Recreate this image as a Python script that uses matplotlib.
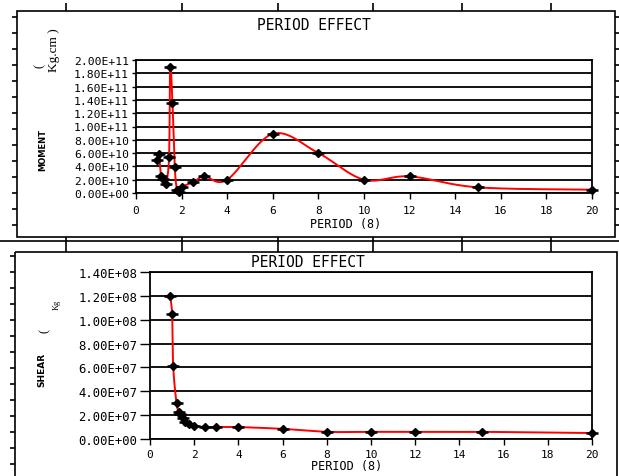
import numpy as np
import matplotlib
matplotlib.use("Agg")
import matplotlib.pyplot as plt
from matplotlib.lines import Line2D
from matplotlib.patches import Rectangle

# ---------------- data ----------------
period_m = [0.9, 1.0, 1.1, 1.2, 1.3, 1.45, 1.5, 1.6, 1.7, 1.8, 1.9, 2.0,
            2.5, 3.0, 4.0, 6.0, 8.0, 10.0, 12.0, 15.0, 20.0]
moment = [4.9e10, 5.8e10, 2.5e10, 2.1e10, 1.3e10, 5.4e10, 1.9e11, 1.35e11,
          3.9e10, 4.0e9, 1.0e9, 9.0e9, 1.6e10, 2.5e10, 2.0e10, 8.9e10,
          6.0e10, 2.0e10, 2.5e10, 8.5e9, 5.0e9]

period_s = [0.9, 1.0, 1.05, 1.2, 1.3, 1.35, 1.5, 1.6, 1.75, 2.0, 2.5, 3.0,
            4.0, 6.0, 8.0, 10.0, 12.0, 15.0, 20.0]
shear = [1.2e8, 1.05e8, 6.1e7, 3.0e7, 2.3e7, 2.1e7, 1.75e7, 1.45e7, 1.25e7,
         1.1e7, 1.0e7, 1.0e7, 1.0e7, 8.5e6, 6.0e6, 6.0e6, 6.0e6, 6.0e6, 5.0e6]

xticks = [0, 2, 4, 6, 8, 10, 12, 14, 16, 18, 20]
m_ticks = [i * 2e10 for i in range(11)]
s_ticks = [i * 2e7 for i in range(8)]

title = "PERIOD EFFECT"
xlabel = "PERIOD (8)"

W, H = 619, 477
fig = plt.figure(figsize=(W / 100, H / 100), dpi=100)
fig.patch.set_facecolor("white")


def px_axes(x0, y0, x1, y1, **kw):
    return fig.add_axes([x0 / W, 1 - y1 / H, (x1 - x0) / W, (y1 - y0) / H], **kw)


# background overlay for decorative frames / free text
bg = fig.add_axes([0, 0, 1, 1], zorder=-5)
bg.set_xlim(0, W)
bg.set_ylim(H, 0)
bg.axis("off")


def seg(x0, y0, x1, y1, lw=1.2):
    bg.add_line(Line2D([x0, x1], [y0, y1], color="black", lw=lw,
                       solid_capstyle="butt"))


# top frame
bg.add_patch(Rectangle((17, 12), 598, 226, fill=False, ec="black", lw=1.2))
for yy in range(18, 235, 16):
    seg(12, yy, 17, yy)
    seg(615, yy, 619, yy)
for xx in [66, 182, 278, 373, 462, 551]:
    seg(xx, 4, xx, 12)
    seg(xx, 238, xx, 253)
seg(0, 241.5, W, 241.5)
# bottom frame
bg.add_patch(Rectangle((15, 253), 602, 240, fill=False, ec="black", lw=1.2))
for yy in range(257, 477, 16):
    seg(10, yy, 15, yy)


def catmull(xs, ys, sx, sy, n=24):
    px = np.asarray(xs, float) * sx
    py = np.asarray(ys, float) * sy
    P = np.column_stack([px, py])
    P = np.vstack([P[0], P, P[-1]])
    out = []
    for i in range(1, len(P) - 2):
        p0, p1, p2, p3 = P[i - 1], P[i], P[i + 1], P[i + 2]
        t = np.linspace(0, 1, n)[:, None]
        c = 0.5 * ((2 * p1) + (-p0 + p2) * t + (2 * p0 - 5 * p1 + 4 * p2 - p3) * t ** 2
                   + (-p0 + 3 * p1 - 3 * p2 + p3) * t ** 3)
        out.append(c)
    c = np.vstack(out)
    return c[:, 0] / sx, c[:, 1] / sy


def style(ax, yticks, ylim, ysize, ytick_len, xpad):
    ax.set_xlim(0, 20)
    ax.set_ylim(*ylim)
    ax.set_xticks(xticks)
    ax.set_yticks(yticks)
    ax.set_xticklabels([str(t) for t in xticks], family="DejaVu Sans Mono", size=8)
    ax.set_yticklabels(["%.2E" % v for v in yticks], family="DejaVu Sans Mono",
                       size=ysize)
    for s in ax.spines.values():
        s.set_color("black")
        s.set_linewidth(1.3)
    ax.yaxis.grid(True, color="black", lw=1.3)
    ax.set_axisbelow(True)
    ax.tick_params(axis="x", direction="out", length=4, width=1, pad=xpad)
    ax.tick_params(axis="y", direction="out", length=ytick_len, width=1, pad=2)


# ---------------- top chart ----------------
ax1 = px_axes(136, 61, 592, 194)
style(ax1, m_ticks, (0, 2e11), 8.2, 3, 5)
sx1 = 456 / 20
sy1 = 133 / 2e11
cx, cy = catmull(period_m, moment, sx1, sy1)
ax1.plot(cx, cy, color="#ff0000", lw=1.4, zorder=3, clip_on=False)
ax1.plot(period_m, moment, ls="none", marker="D", ms=4, color="black", zorder=4,
         clip_on=False)
ax1.plot(period_m, moment, ls="none", marker="_", ms=8, mew=1.8, color="black",
         zorder=4, clip_on=False)

# ---------------- bottom chart ----------------
ax2 = px_axes(150, 273, 592, 440)
style(ax2, s_ticks, (0, 1.4e8), 8.8, 7, 3)
sx2 = 442 / 20
sy2 = 167 / 1.4e8
cx2, cy2 = catmull(period_s, shear, sx2, sy2)
ax2.plot(cx2, cy2, color="#ff0000", lw=1.4, zorder=3, clip_on=False)
ax2.plot(period_s, shear, ls="none", marker="D", ms=4, color="black", zorder=4,
         clip_on=False)
ax2.plot(period_s, shear, ls="none", marker="_", ms=8, mew=1.8, color="black",
         zorder=4, clip_on=False)

# ---------------- texts ----------------
bg.text(314, 25, title, ha="center", va="center", fontsize=10.5,
        family="DejaVu Sans Mono")
bg.text(308, 263, title, ha="center", va="center", fontsize=10.5,
        family="DejaVu Sans Mono")
bg.text(346, 225, xlabel, ha="center", va="center", fontsize=8.5,
        family="DejaVu Sans Mono")
bg.text(347, 467, xlabel, ha="center", va="center", fontsize=8.5,
        family="DejaVu Sans Mono")
bg.text(43, 150, "MOMENT", rotation=90, ha="center", va="center", fontsize=6,
        fontweight="bold", family="DejaVu Sans")
bg.text(42, 370, "SHEAR", rotation=90, ha="center", va="center", fontsize=6.5,
        fontweight="bold", family="DejaVu Sans")
bg.text(40, 66, "(", rotation=90, ha="center", va="center", fontsize=9,
        family="Liberation Serif")
bg.text(54, 50, "Kg.cm )", rotation=90, ha="center", va="center", fontsize=9.5,
        family="Liberation Serif")
bg.text(45, 331, "(", rotation=90, ha="center", va="center", fontsize=9,
        family="Liberation Serif")
bg.text(57, 305, "Kg", rotation=90, ha="center", va="center", fontsize=6,
        family="Liberation Serif")

fig.savefig("out.png", dpi=100, facecolor="white")
